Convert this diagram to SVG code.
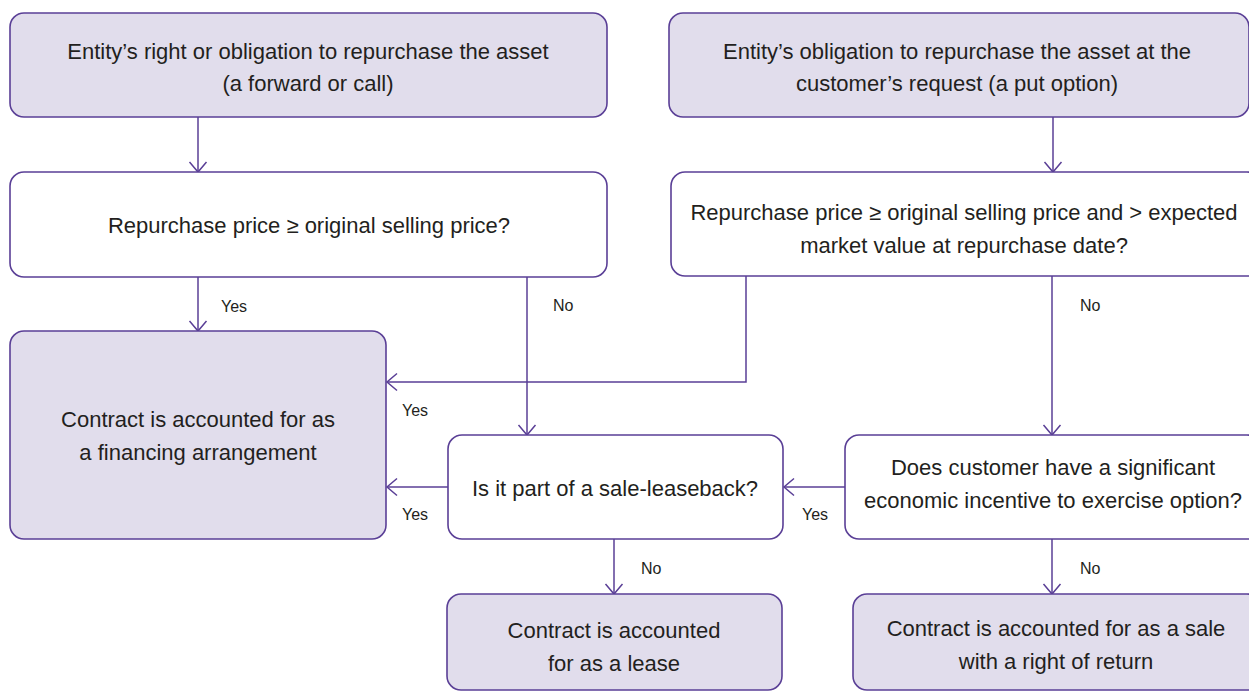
<svg xmlns="http://www.w3.org/2000/svg" width="1249" height="693" viewBox="0 0 1249 693">
<style>
.box{stroke:#5a3f96;stroke-width:1.6;}
.fill{fill:#e1ddec;}
.white{fill:#ffffff;}
.t{font-family:"Liberation Sans",Arial,sans-serif;font-size:22px;fill:#231f20;text-anchor:middle;}
.lbl{font-family:"Liberation Sans",Arial,sans-serif;font-size:16px;fill:#231f20;}
.c{fill:none;stroke:#5a3f96;stroke-width:1.5;}
</style>
<defs>
<marker id="arr" markerWidth="14" markerHeight="20" refX="11" refY="10" orient="auto" markerUnits="userSpaceOnUse">
<path d="M1,1.5 L11,10 L1,18.5" fill="none" stroke="#5a3f96" stroke-width="1.5"/>
</marker>
</defs>
<rect width="1249" height="693" fill="#ffffff"/>
<g id="connectors">
<path class="c" d="M198,117 V172" marker-end="url(#arr)"/>
<path class="c" d="M1053,117 V172" marker-end="url(#arr)"/>
<path class="c" d="M198,277 V331" marker-end="url(#arr)"/>
<path class="c" d="M527,277 V435" marker-end="url(#arr)"/>
<path class="c" d="M746,276 V382 H387" marker-end="url(#arr)"/>
<path class="c" d="M1052,276 V435" marker-end="url(#arr)"/>
<path class="c" d="M448,487 H387" marker-end="url(#arr)"/>
<path class="c" d="M845,487 H784" marker-end="url(#arr)"/>
<path class="c" d="M614,539 V594" marker-end="url(#arr)"/>
<path class="c" d="M1052,539 V594" marker-end="url(#arr)"/>
<text class="lbl" x="221" y="312">Yes</text>
<text class="lbl" x="553" y="311">No</text>
<text class="lbl" x="1080" y="311">No</text>
<text class="lbl" x="402" y="416">Yes</text>
<text class="lbl" x="402" y="520">Yes</text>
<text class="lbl" x="802" y="520">Yes</text>
<text class="lbl" x="641" y="574">No</text>
<text class="lbl" x="1080" y="574">No</text>
</g>
<g id="n1">
<rect class="box fill" x="10" y="13" width="597" height="104" rx="14"/>
<text class="t" x="308" y="59">Entity’s right or obligation to repurchase the asset</text>
<text class="t" x="308" y="91">(a forward or call)</text>
</g>
<g id="n2">
<rect class="box fill" x="669" y="13" width="580" height="104" rx="14"/>
<text class="t" x="957" y="59">Entity’s obligation to repurchase the asset at the</text>
<text class="t" x="957" y="91">customer’s request (a put option)</text>
</g>
<g id="n3">
<rect class="box white" x="10" y="172" width="597" height="105" rx="14"/>
<text class="t" x="309" y="233">Repurchase price ≥ original selling price?</text>
</g>
<g id="n4">
<rect class="box white" x="671" y="172" width="590" height="104" rx="14"/>
<text class="t" x="964" y="220">Repurchase price ≥ original selling price and &gt; expected</text>
<text class="t" x="964" y="253">market value at repurchase date?</text>
</g>
<g id="n5">
<rect class="box fill" x="10" y="331" width="376" height="208" rx="14"/>
<text class="t" x="198" y="427">Contract is accounted for as</text>
<text class="t" x="198" y="460">a financing arrangement</text>
</g>
<g id="n6">
<rect class="box white" x="448" y="435" width="335" height="104" rx="14"/>
<text class="t" x="615" y="496">Is it part of a sale-leaseback?</text>
</g>
<g id="n7">
<rect class="box white" x="845" y="435" width="416" height="104" rx="14"/>
<text class="t" x="1053" y="475">Does customer have a significant</text>
<text class="t" x="1053" y="508">economic incentive to exercise option?</text>
</g>
<g id="n8">
<rect class="box fill" x="447" y="594" width="335" height="96" rx="14"/>
<text class="t" x="614" y="638">Contract is accounted</text>
<text class="t" x="614" y="671">for as a lease</text>
</g>
<g id="n9">
<rect class="box fill" x="853" y="594" width="408" height="96" rx="14"/>
<text class="t" x="1056" y="636">Contract is accounted for as a sale</text>
<text class="t" x="1056" y="669">with a right of return</text>
</g>
</svg>
